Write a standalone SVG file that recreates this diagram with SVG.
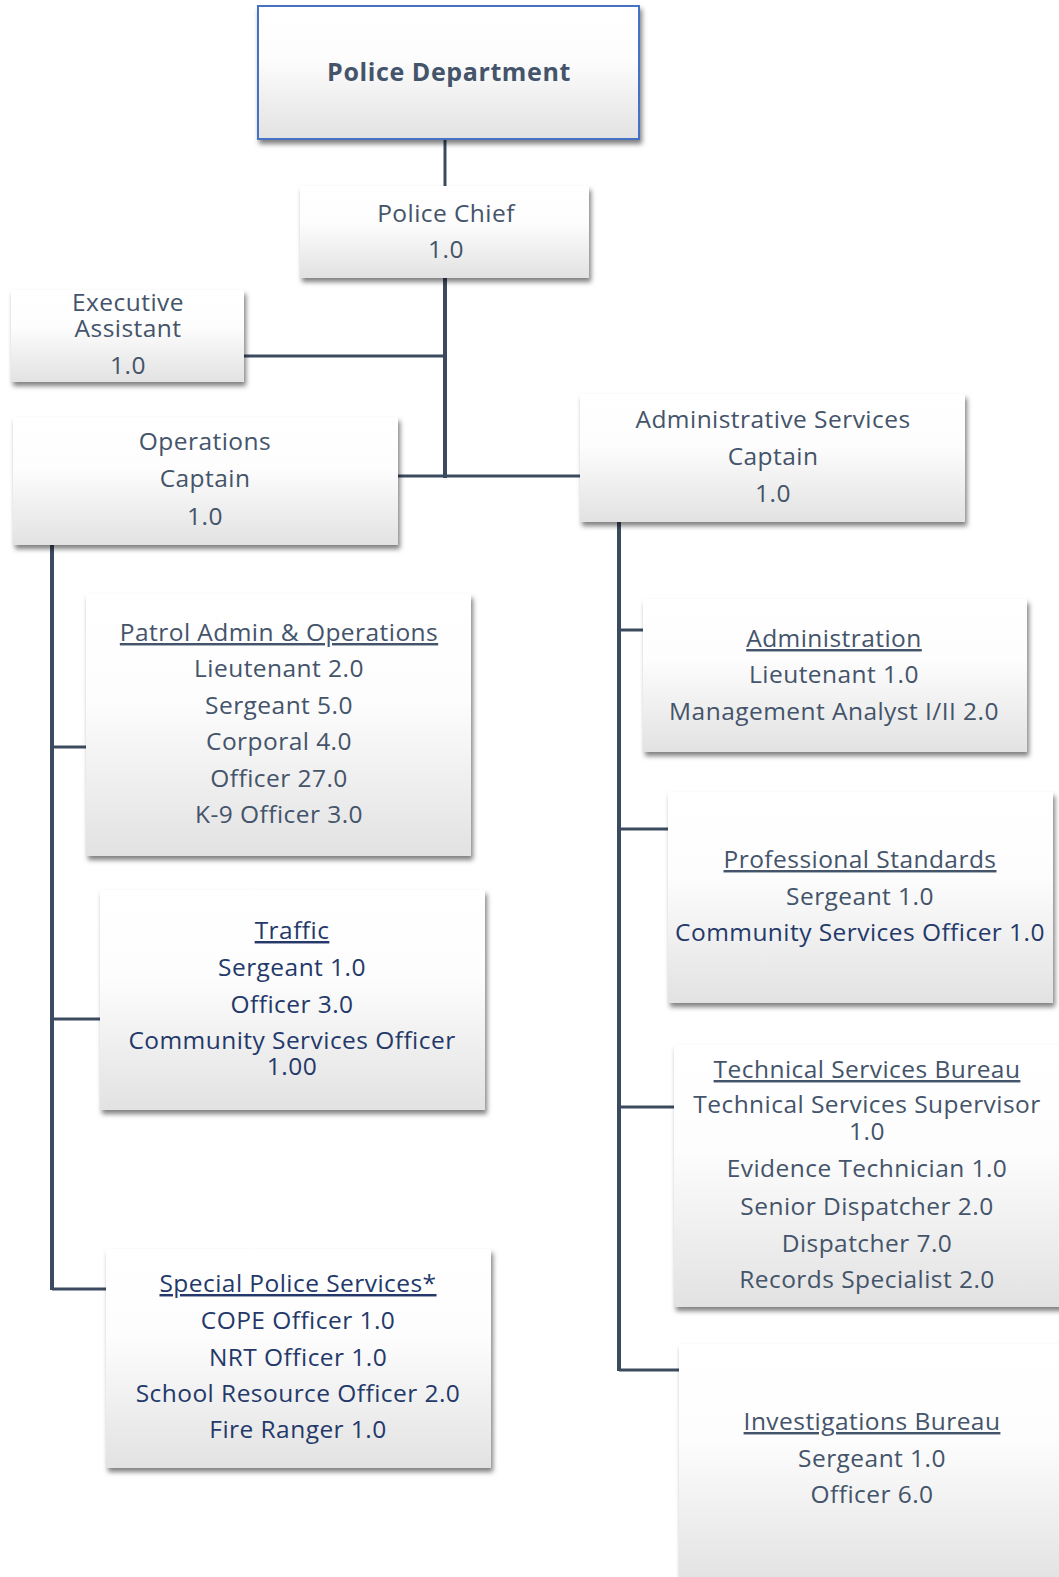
<svg xmlns="http://www.w3.org/2000/svg" width="1059" height="1577" viewBox="0 0 1059 1577">
<defs>
<linearGradient id="g" x1="0" y1="0" x2="0" y2="1">
<stop offset="0" stop-color="#ffffff"/>
<stop offset="0.4" stop-color="#fdfdfd"/>
<stop offset="1" stop-color="#e2e2e2"/>
</linearGradient>
<filter id="sh" x="-10%" y="-10%" width="125%" height="130%">
<feDropShadow dx="2" dy="4" stdDeviation="2.5" flood-color="#000" flood-opacity="0.5"/>
</filter>
</defs>
<style>
.box{fill:url(#g);filter:url(#sh)}
.top{stroke:#4472c4;stroke-width:2}
text{font-family:"Open Sans","Liberation Sans",sans-serif;font-size:24.5px;letter-spacing:0.45px;text-anchor:middle;fill:#44546a}
.b{font-weight:bold;font-size:25px;letter-spacing:0.6px}
.n{fill:#24396a}
.u{text-decoration:underline}
.c line{stroke:#3b4a5e;stroke-width:3;fill:none}
.c .m{stroke-width:4}
</style>
<g class="c" id="connectors">
<line x1="445" y1="139" x2="445" y2="186"/>
<line class="m" x1="445" y1="278" x2="445" y2="478"/>
<line x1="244" y1="356" x2="445" y2="356"/>
<line x1="398" y1="476" x2="580" y2="476"/>
<line class="m" x1="52" y1="545" x2="52" y2="1290"/>
<line x1="52" y1="747" x2="86" y2="747"/>
<line x1="52" y1="1019" x2="100" y2="1019"/>
<line x1="52" y1="1289" x2="106" y2="1289"/>
<line class="m" x1="619" y1="522" x2="619" y2="1371"/>
<line x1="619" y1="630" x2="643" y2="630"/>
<line x1="619" y1="829" x2="668" y2="829"/>
<line x1="619" y1="1107" x2="674" y2="1107"/>
<line x1="619" y1="1370" x2="679" y2="1370"/>
</g>
<g id="police-department">
<rect class="box top" x="258" y="6" width="381" height="133"/>
<text class="b" x="449" y="81">Police Department</text>
</g>
<g id="police-chief">
<rect class="box" x="300" y="186" width="289" height="92"/>
<text x="446" y="222">Police Chief</text>
<text x="446" y="258">1.0</text>
</g>
<g id="executive-assistant">
<rect class="box" x="11" y="290" width="233" height="92"/>
<text x="128" y="311">Executive</text>
<text x="128" y="337">Assistant</text>
<text x="128" y="374">1.0</text>
</g>
<g id="operations-captain">
<rect class="box" x="13" y="417" width="385" height="128"/>
<text x="205" y="450">Operations</text>
<text x="205" y="487">Captain</text>
<text x="205" y="525">1.0</text>
</g>
<g id="administrative-services-captain">
<rect class="box" x="580" y="394" width="385" height="128"/>
<text x="773" y="428">Administrative Services</text>
<text x="773" y="465">Captain</text>
<text x="773" y="502">1.0</text>
</g>
<g id="patrol">
<rect class="box" x="86" y="594" width="385" height="262"/>
<text class="u" x="279" y="641">Patrol Admin &amp; Operations</text>
<text x="279" y="677">Lieutenant 2.0</text>
<text x="279" y="714">Sergeant 5.0</text>
<text x="279" y="750">Corporal 4.0</text>
<text x="279" y="787">Officer 27.0</text>
<text x="279" y="823">K-9 Officer 3.0</text>
</g>
<g id="traffic">
<rect class="box" x="100" y="890" width="385" height="220"/>
<text class="u n" x="292" y="939">Traffic</text>
<text class="n" x="292" y="976">Sergeant 1.0</text>
<text class="n" x="292" y="1013">Officer 3.0</text>
<text class="n" x="292" y="1049">Community Services Officer</text>
<text class="n" x="292" y="1075">1.00</text>
</g>
<g id="special-police-services">
<rect class="box" x="106" y="1249" width="385" height="219"/>
<text class="u n" x="298" y="1292">Special Police Services*</text>
<text class="n" x="298" y="1329">COPE Officer 1.0</text>
<text class="n" x="298" y="1366">NRT Officer 1.0</text>
<text class="n" x="298" y="1402">School Resource Officer 2.0</text>
<text class="n" x="298" y="1438">Fire Ranger 1.0</text>
</g>
<g id="administration">
<rect class="box" x="643" y="599" width="384" height="153"/>
<text class="u" x="834" y="647">Administration</text>
<text x="834" y="683">Lieutenant 1.0</text>
<text x="834" y="720">Management Analyst I/II 2.0</text>
</g>
<g id="professional-standards">
<rect class="box" x="668" y="792" width="385" height="211"/>
<text class="u" x="860" y="868">Professional Standards</text>
<text x="860" y="905">Sergeant 1.0</text>
<text class="n" x="860" y="941">Community Services Officer 1.0</text>
</g>
<g id="technical-services-bureau">
<rect class="box" x="674" y="1045" width="390" height="262"/>
<text class="u" x="867" y="1078">Technical Services Bureau</text>
<text x="867" y="1113">Technical Services Supervisor</text>
<text x="867" y="1140">1.0</text>
<text x="867" y="1177">Evidence Technician 1.0</text>
<text x="867" y="1215">Senior Dispatcher 2.0</text>
<text x="867" y="1252">Dispatcher 7.0</text>
<text x="867" y="1288">Records Specialist 2.0</text>
</g>
<g id="investigations-bureau">
<rect class="box" x="679" y="1344" width="385" height="240"/>
<text class="u" x="872" y="1430">Investigations Bureau</text>
<text x="872" y="1467">Sergeant 1.0</text>
<text x="872" y="1503">Officer 6.0</text>
</g>
</svg>
